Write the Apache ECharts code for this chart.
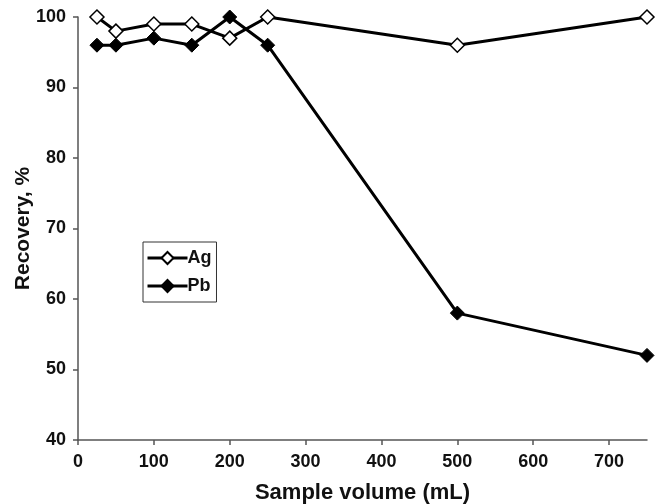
<!DOCTYPE html>
<html>
<head>
<meta charset="utf-8">
<script src="https://cdn.jsdelivr.net/npm/echarts@6/dist/echarts.min.js"></script>
<style>
  html, body { margin: 0; padding: 0; background: #fff; }
  #chart { width: 661px; height: 504px; }
</style>
</head>
<body>
<div id="chart"></div>
<script>
    // data
    var volumes = [25, 50, 100, 150, 200, 250, 500, 750];
    var agRecovery = [100, 98, 99, 99, 97, 100, 96, 100];
    var pbRecovery = [96, 96, 97, 96, 100, 96, 58, 52];
    var xTicks = [0, 100, 200, 300, 400, 500, 600, 700];

    function pairs(xs, ys) {
        return xs.map(function(x, i) { return [x, ys[i]]; });
    }

    var font = 'Liberation Sans, Arial, sans-serif';
    var chart = echarts.init(document.getElementById('chart'));

    chart.setOption({
        animation: false,
        grid: { left: 78, right: 14, top: 17, bottom: 64, outerBoundsMode: 'none', containLabel: false },
        legend: {
            orient: 'vertical',
            left: 143,
            top: 242,
            padding: [7, 5, 7, 3],
            itemGap: 10,
            itemWidth: 40,
            itemHeight: 15,
            borderColor: '#333',
            borderWidth: 1,
            lineStyle: { width: 3 },
            textStyle: { fontFamily: font, fontWeight: 'bold', fontSize: 18, color: '#111', padding: [0, 0, 0, -5] },
            data: ['Ag', 'Pb']
        },
        xAxis: {
            type: 'value',
            min: 0,
            max: 750,
            interval: 100,
            name: 'Sample volume (mL)',
            nameLocation: 'middle',
            nameGap: 42,
            nameMoveOverlap: false,
            nameTextStyle: { fontFamily: font, fontWeight: 'bold', fontSize: 22, color: '#111' },
            splitLine: { show: false },
            axisLine: { lineStyle: { color: '#555', width: 1.5 } },
            axisTick: { length: 5, lineStyle: { color: '#555', width: 1.5 }, customValues: xTicks },
            axisLabel: { fontFamily: font, fontWeight: 'bold', fontSize: 18, color: '#111', margin: 13, customValues: xTicks }
        },
        yAxis: {
            type: 'value',
            min: 40,
            max: 100,
            interval: 10,
            name: 'Recovery, %',
            nameLocation: 'middle',
            nameGap: 44,
            nameMoveOverlap: false,
            nameTextStyle: { fontFamily: font, fontWeight: 'bold', fontSize: 21, color: '#111' },
            splitLine: { show: false },
            axisLine: { show: true, lineStyle: { color: '#555', width: 1.5 } },
            axisTick: { show: true, length: 5, lineStyle: { color: '#555', width: 1.5 } },
            axisLabel: { fontFamily: font, fontWeight: 'bold', fontSize: 18, color: '#111', margin: 12 }
        },
        series: [{
            name: 'Ag',
            type: 'line',
            data: pairs(volumes, agRecovery),
            symbol: 'diamond',
            symbolSize: 14,
            lineStyle: { color: '#000', width: 3 },
            itemStyle: { color: '#fff', borderColor: '#000', borderWidth: 1.5 },
            z: 3
        }, {
            name: 'Pb',
            type: 'line',
            data: pairs(volumes, pbRecovery),
            symbol: 'diamond',
            symbolSize: 14,
            lineStyle: { color: '#000', width: 3 },
            itemStyle: { color: '#000', borderColor: '#000', borderWidth: 1 },
            z: 2
        }]
    });
</script>
</body>
</html>
